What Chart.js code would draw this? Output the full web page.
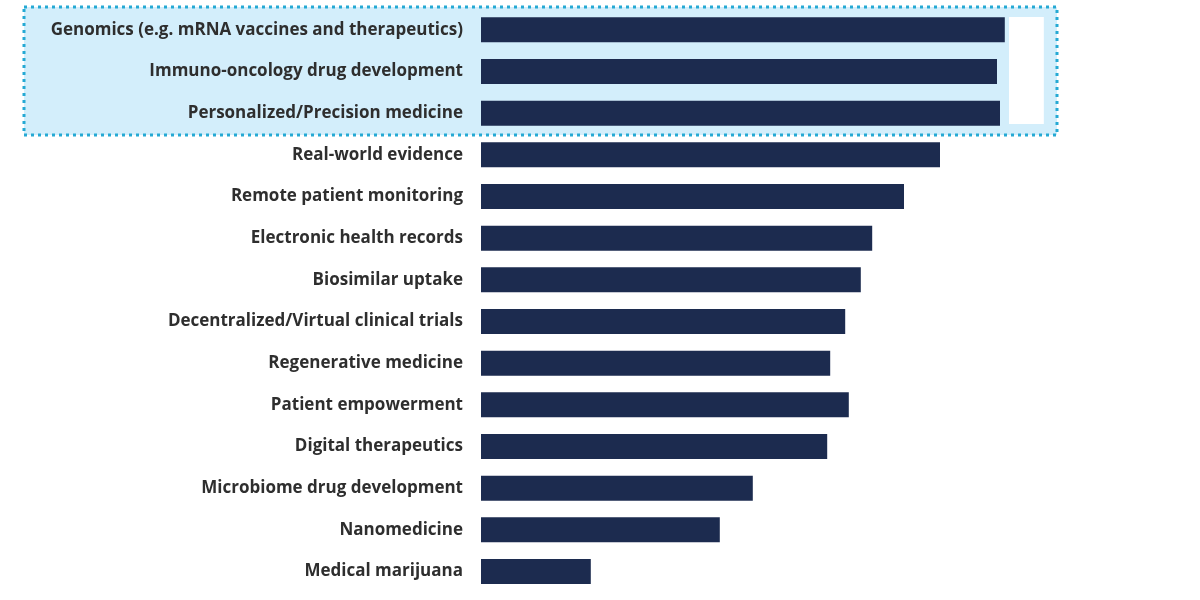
<!DOCTYPE html>
<html>
<head>
<meta charset="utf-8">
<script src="https://cdn.jsdelivr.net/npm/chart.js@4.4.1/dist/chart.umd.min.js"></script>
<style>
    html, body { margin: 0; padding: 0; background: #ffffff; }
    #wrap { width: 1200px; height: 600px; position: relative; }
</style>
</head>
<body>
<div id="wrap"><canvas id="trendsChart"></canvas></div>
<script>
// Dados do gráfico
const categories = [
    'Genomics (e.g. mRNA vaccines and therapeutics)',
    'Immuno-oncology drug development',
    'Personalized/Precision medicine',
    'Real-world evidence',
    'Remote patient monitoring',
    'Electronic health records',
    'Biosimilar uptake',
    'Decentralized/Virtual clinical trials',
    'Regenerative medicine',
    'Patient empowerment',
    'Digital therapeutics',
    'Microbiome drug development',
    'Nanomedicine',
    'Medical marijuana'
];
const scores = [87.3, 86.0, 86.5, 76.5, 70.5, 65.2, 63.3, 60.7, 58.2, 61.3, 57.7, 45.3, 39.8, 18.3];
const highlightedCount = 3;

// Caixa de destaque atrás das três primeiras barras
const highlightBox = {
    id: 'highlightBox',
    beforeDraw(chart) {
        const { ctx } = chart;
        const x = chart.scales.x;
        const y = chart.scales.y;
        const step = y.getPixelForValue(1) - y.getPixelForValue(0);
        const top = y.getPixelForValue(0) - step / 2 - 2;
        const bottom = y.getPixelForValue(highlightedCount - 1) + step / 2 + 1;
        const left = 24;
        const right = x.getPixelForValue(96);

        ctx.save();
        ctx.fillStyle = '#d3eefb';
        ctx.fillRect(left, top, right - left, bottom - top);

        // bloco branco à direita
        ctx.fillStyle = '#ffffff';
        const wl = x.getPixelForValue(88);
        const wr = x.getPixelForValue(93.8);
        ctx.fillRect(wl, top + 10, wr - wl, bottom - top - 21);

        ctx.strokeStyle = '#25a9d4';
        ctx.lineWidth = 3;
        ctx.setLineDash([3, 4]);
        ctx.strokeRect(left, top, right - left, bottom - top);
        ctx.restore();
    }
};

const ctx = document.getElementById('trendsChart').getContext('2d');
new Chart(ctx, {
    type: 'bar',
    data: {
        labels: categories,
        datasets: [{
            data: scores,
            backgroundColor: '#1c2b4f',
            borderWidth: 0,
            barPercentage: 0.6,
            categoryPercentage: 1.0
        }]
    },
    options: {
        indexAxis: 'y',
        responsive: true,
        maintainAspectRatio: false,
        animation: false,
        layout: {
            padding: { top: 9, bottom: 7, right: 119, left: 0 }
        },
        plugins: {
            legend: { display: false },
            tooltip: { enabled: false },
            title: { display: false }
        },
        scales: {
            x: {
                display: false,
                min: 0,
                max: 100
            },
            y: {
                // marcas transparentes só para afastar os rótulos das barras
                grid: {
                    display: true,
                    drawOnChartArea: false,
                    drawTicks: true,
                    tickLength: 18,
                    color: 'rgba(0,0,0,0)'
                },
                border: { display: false },
                ticks: {
                    color: '#2e2e2e',
                    padding: 0,
                    font: { family: 'Open Sans', size: 17, weight: 'bold', lineHeight: 0.9 }
                },
                afterFit(scale) {
                    scale.width = 481;
                }
            }
        }
    },
    plugins: [highlightBox]
});
</script>
</body>
</html>
